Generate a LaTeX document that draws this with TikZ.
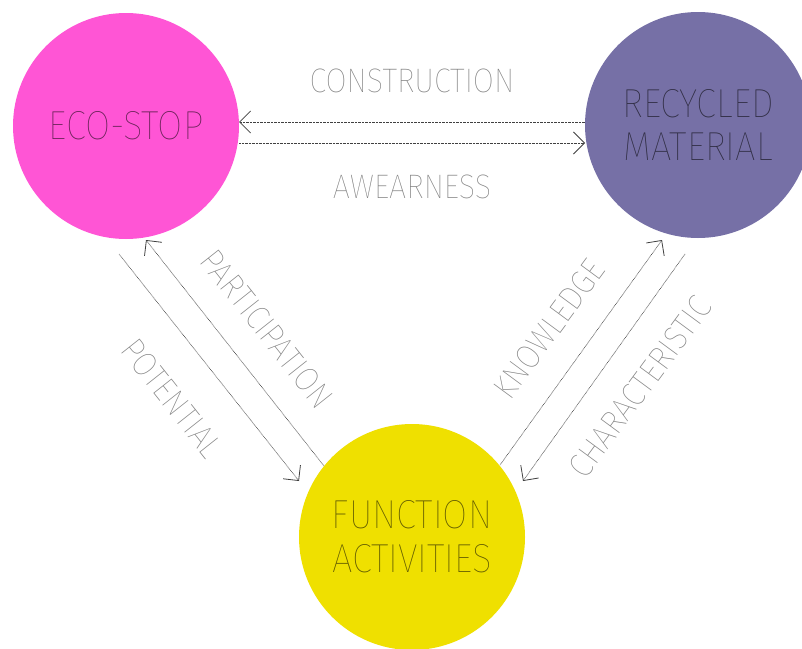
\documentclass[tikz,border=0pt]{standalone}
\usepackage{fontspec}
\setmainfont{Fira Sans Thin}[FakeStretch=0.9]
\usetikzlibrary{arrows.meta}
\definecolor{ecopink}{HTML}{FF55D5}
\definecolor{recpurple}{HTML}{7670A6}
\definecolor{funcyellow}{HTML}{EFE000}
\definecolor{labelgray}{HTML}{7E7E7E}
\tikzset{
  x=1pt, y=1pt,
  hub/.style={circle, minimum size=226pt, inner sep=0pt, draw=none,
    text=black, text opacity=0.6, align=center,
    font=\fontsize{40.5}{44}\selectfont},
  linklabel/.style={text=labelgray, inner sep=0pt,
    font=\fontsize{34}{40}\selectfont},
  link/.style={line width=0.6pt, draw=black!75,
    dash pattern=on 0.7pt off 0.7pt},
  tip/.style={-{Straight Barb[length=11pt,width=22pt,line width=0.8pt]}},
}
\begin{document}
\begin{tikzpicture}
\useasboundingbox (0,0) rectangle (802,-648);
\fill[white] (0,0) rectangle (802,-648);

% the three hubs
\node[hub, fill=ecopink]    (eco)  at (126,-126) {ECO-STOP};
\node[hub, fill=recpurple]  (rec)  at (698,-125) {RECYCLED\\[-1pt]MATERIAL};
\node[hub, fill=funcyellow] (func) at (412,-537) {FUNCTION\\[0pt]ACTIVITIES};

% anchor points of the connectors
\coordinate (c1s) at (585,-122);
\coordinate (c1e) at (239,-122);
\coordinate (c2s) at (239,-143);
\coordinate (c2e) at (585,-143);
\coordinate (pots) at (119,-254);
\coordinate (pote) at (299,-481);
\coordinate (pars) at (324,-466);
\coordinate (pare) at (146,-240);
\coordinate (knos) at (500,-465);
\coordinate (knoe) at (662,-240);
\coordinate (chas) at (685,-254);
\coordinate (chae) at (523,-481);

% connectors
\draw[link, tip] (c1s) -- (c1e);
\draw[link, tip] (c2s) -- (c2e);
\draw[link, tip] (pots) -- (pote);
\draw[link, tip] (pars) -- (pare);
\draw[link, tip] (knos) -- (knoe);
\draw[link, tip] (chas) -- (chae);

% connector labels
\node[linklabel] (lcon) at (412,-81) {CONSTRUCTION};
\node[linklabel] (lawa) at (412,-187) {AWEARNESS};
\node[linklabel, rotate=-51.6] (lpar) at (267,-329) {PARTICIPATION};
\node[linklabel, rotate=-51.6] (lpot) at (172,-398) {POTENTIAL};
\node[linklabel, rotate=53.6] (lkno) at (549,-329) {KNOWLEDGE};
\node[linklabel, rotate=53.6] (lcha) at (640,-387) {CHARACTERISTIC};
\end{tikzpicture}
\end{document}
